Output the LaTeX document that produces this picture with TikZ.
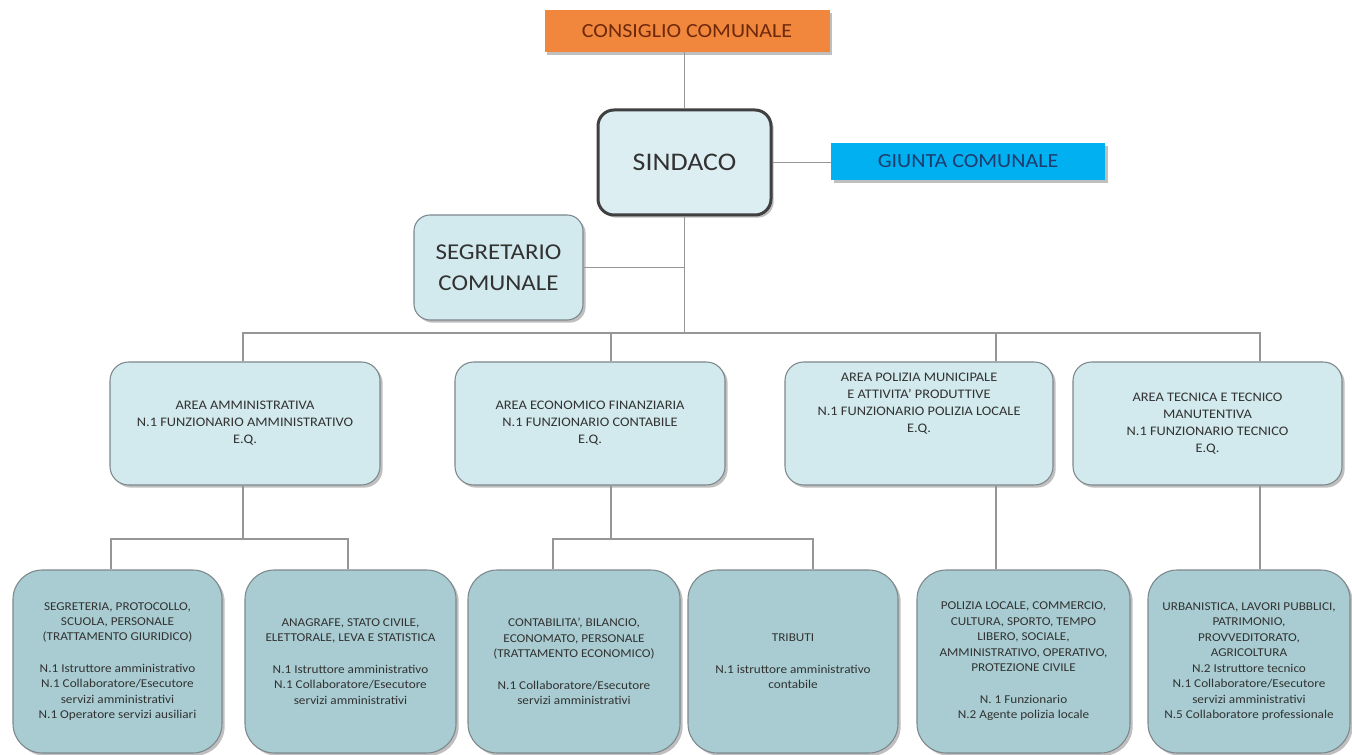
\documentclass[tikz,border=0pt]{standalone}
\usepackage{fontspec}
\setmainfont[FakeStretch=1.1]{Carlito}
\usepackage{tikz}
\usetikzlibrary{calc,shadows}
\definecolor{orgOrange}{RGB}{240,135,60}
\definecolor{orgOrangeText}{RGB}{110,40,10}
\definecolor{orgBlue}{RGB}{0,176,240}
\definecolor{orgBlueText}{RGB}{30,60,110}
\definecolor{sindFill}{RGB}{220,238,242}
\definecolor{areaFill}{RGB}{210,234,237}
\definecolor{unitFill}{RGB}{168,204,209}
\definecolor{boxLine}{RGB}{125,135,140}
\definecolor{sindLine}{RGB}{64,64,64}
\definecolor{wireGray}{RGB}{150,150,150}
\definecolor{textDark}{RGB}{50,50,50}

\begin{document}
\begin{tikzpicture}[x=0.75pt, y=-0.75pt,
    wire/.style={draw=wireGray, line width=0.9pt},
    dropsh/.style={drop shadow={shadow xshift=2pt, shadow yshift=-2pt, fill=black, opacity=0.25}},
    headbox/.style={rectangle, dropsh, inner sep=0pt, font=\fontsize{15}{18}\selectfont},
    sindbox/.style={rectangle, rounded corners=12pt, draw=sindLine, line width=2.25pt, fill=sindFill, dropsh,
        minimum width=129.75pt, minimum height=78.75pt, text=textDark, font=\fontsize{19}{23}\selectfont},
    segbox/.style={rectangle, rounded corners=12pt, draw=boxLine, line width=0.8pt, fill=areaFill, dropsh, align=center,
        minimum width=126.75pt, minimum height=78.75pt, text=textDark, font=\fontsize{17}{23}\selectfont},
    areabox/.style={rectangle, rounded corners=14pt, draw=boxLine, line width=0.8pt, fill=areaFill, dropsh, align=center,
        inner sep=0pt, minimum height=92.25pt, text=textDark, font=\fontsize{9.8}{12.75}\selectfont},
    unitbox/.style={rectangle, rounded corners=22pt, draw=boxLine, line width=0.8pt, fill=unitFill, dropsh, align=center,
        inner sep=0pt, minimum height=137.25pt, text=textDark, font=\fontsize{9}{11.6}\selectfont},
]
    \fill[white] (0,0) rectangle (1352,755);
    \useasboundingbox (0,0) rectangle (1352,755);

    % top of the chart
    \node[headbox, fill=orgOrange, text=orgOrangeText, minimum width=213.75pt, minimum height=31.5pt] (cons) at (687,31) {CONSIGLIO COMUNALE};
    \node[sindbox] (sind) at (684.5,162.5) {SINDACO};
    \node[headbox, fill=orgBlue, text=orgBlueText, minimum width=205.5pt, minimum height=27.75pt] (giunta) at (968,161.5) {GIUNTA COMUNALE};
    \node[segbox] (segret) at (498.5,267.5) {SEGRETARIO\\COMUNALE};

    % areas
    \node[areabox, minimum width=202.5pt] (amm) at (245,423.5)
        {AREA AMMINISTRATIVA\\N.1 FUNZIONARIO AMMINISTRATIVO\\E.Q.};
    \node[areabox, minimum width=202.5pt] (eco) at (590,423.5)
        {AREA ECONOMICO FINANZIARIA\\N.1 FUNZIONARIO CONTABILE\\E.Q.};
    \node[areabox, minimum width=201pt] (pol) at (919,423.5)
        {AREA POLIZIA MUNICIPALE\\E ATTIVITA' PRODUTTIVE\\N.1 FUNZIONARIO POLIZIA LOCALE\\E.Q.\\[19pt]\mbox{}};
    \node[areabox, minimum width=201.75pt] (tec) at (1207.5,423.5)
        {AREA TECNICA E TECNICO\\MANUTENTIVA\\N.1 FUNZIONARIO TECNICO\\E.Q.};

    % offices
    \node[unitbox, minimum width=156.75pt] (segr) at (117.5,661.5)
        {SEGRETERIA,  PROTOCOLLO,\\SCUOLA, PERSONALE\\(TRATTAMENTO  GIURIDICO)\\[12pt]N.1 Istruttore amministrativo\\N.1 Collaboratore/Esecutore\\servizi amministrativi\\N.1 Operatore servizi ausiliari};
    \node[unitbox, minimum width=158.25pt] (anag) at (350.5,661.5)
        {ANAGRAFE,  STATO CIVILE,\\ELETTORALE,  LEVA E STATISTICA\\[12pt]N.1 Istruttore amministrativo\\N.1 Collaboratore/Esecutore\\servizi amministrativi};
    \node[unitbox, minimum width=159pt] (cont) at (574,661.5)
        {CONTABILITA',  BILANCIO,\\ECONOMATO,  PERSONALE\\(TRATTAMENTO  ECONOMICO)\\[12pt]N.1 Collaboratore/Esecutore\\servizi amministrativi};
    \node[unitbox, minimum width=157.5pt] (trib) at (793,661.5)
        {TRIBUTI\\[12pt]N.1 istruttore amministrativo\\contabile};
    \node[unitbox, minimum width=159.75pt] (poll) at (1023.5,661.5)
        {POLIZIA LOCALE,  COMMERCIO,\\CULTURA,  SPORTO,  TEMPO\\LIBERO,  SOCIALE,\\AMMINISTRATIVO,  OPERATIVO,\\PROTEZIONE CIVILE\\[12pt]N. 1 Funzionario\\N.2 Agente  polizia locale};
    \node[unitbox, minimum width=151.5pt] (urb) at (1249,661.5)
        {URBANISTICA,  LAVORI PUBBLICI,\\PATRIMONIO,\\PROVVEDITORATO,\\AGRICOLTURA\\N.2 Istruttore tecnico\\N.1 Collaboratore/Esecutore\\servizi amministrativi\\N.5 Collaboratore professionale};

    % junctions
    \coordinate (hub) at (684.5,333);
    \coordinate (lowbus) at (0,539);
    \path (amm.north) ++(-2,0) coordinate (ammIn)  (amm.south) ++(-2,0) coordinate (ammOut);
    \path (eco.north) ++(21,0) coordinate (ecoIn)  (eco.south) ++(21,0) coordinate (ecoOut);
    \path (pol.north) ++(77,0) coordinate (polIn)  (pol.south) ++(77,0) coordinate (polOut);
    \path (tec.north) ++(52.5,0) coordinate (tecIn) (tec.south) ++(52.5,0) coordinate (tecOut);
    \path (segr.north) ++(-6.5,0) coordinate (segrIn);
    \path (anag.north) ++(-2.5,0) coordinate (anagIn);
    \path (cont.north) ++(-21,0) coordinate (contIn);
    \path (trib.north) ++(20,0) coordinate (tribIn);

    % connectors
    \draw[wire] (sind.north) -- (sind.north |- cons.south);
    \draw[wire] (sind.east) -- (sind.east -| giunta.west);
    \draw[wire] (sind.south) -- (hub);
    \draw[wire] (segret.east) -- (segret.east -| hub);
    \draw[wire] (ammIn) -- (ammIn |- hub) -- (tecIn |- hub) -- (tecIn);
    \draw[wire] (ecoIn) -- (ecoIn |- hub);
    \draw[wire] (polIn) -- (polIn |- hub);
    \draw[wire] (ammOut) -- (ammOut |- lowbus);
    \draw[wire] (segrIn) -- (segrIn |- lowbus) -- (anagIn |- lowbus) -- (anagIn);
    \draw[wire] (ecoOut) -- (ecoOut |- lowbus);
    \draw[wire] (contIn) -- (contIn |- lowbus) -- (tribIn |- lowbus) -- (tribIn);
    \draw[wire] (polOut) -- (polOut |- poll.north);
    \draw[wire] (tecOut) -- (tecOut |- urb.north);
\end{tikzpicture}
\end{document}
